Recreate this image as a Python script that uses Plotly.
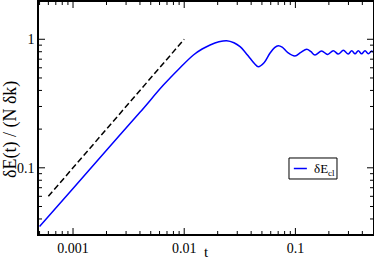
import numpy as np
import plotly.graph_objects as go

# ---- data ----
t = [0.0005, 0.001, 0.002, 0.004, 0.0065, 0.009, 0.0121, 0.0145, 0.0171, 0.0205,
     0.0241, 0.028, 0.0318, 0.0355, 0.0391, 0.043, 0.0464, 0.0525, 0.059, 0.065,
     0.0701, 0.076, 0.085, 0.099, 0.112, 0.1264, 0.138, 0.150, 0.172, 0.195,
     0.219, 0.243, 0.270, 0.299, 0.321, 0.344, 0.368, 0.394, 0.423, 0.453,
     0.485, 0.5]
dE_cl = [0.035, 0.069, 0.137, 0.27, 0.44, 0.59, 0.755, 0.84, 0.903, 0.955,
         0.975, 0.94, 0.876, 0.79, 0.711, 0.645, 0.612, 0.66, 0.778, 0.86,
         0.892, 0.87, 0.79, 0.741, 0.79, 0.836, 0.80, 0.755, 0.81, 0.762,
         0.815, 0.768, 0.82, 0.768, 0.815, 0.77, 0.815, 0.77, 0.815, 0.772,
         0.81, 0.795]

guide_t = [0.0006, 0.01]
guide_y = [0.06, 1.0]

x_tickvals = [0.001, 0.01, 0.1]
x_ticktext = ["0.001", "0.01", "0.1"]
y_tickvals = [0.1, 1]
y_ticktext = ["0.1", "1"]

FONT = "Liberation Serif"
XR = [-3.306, -0.302]
YR = [-1.515, 0.290]

fig = go.Figure()
fig.add_trace(go.Scatter(x=t, y=dE_cl, mode="lines", name="δE<sub>cl</sub>",
                         line=dict(color="#0000ff", width=1.5, shape="spline", smoothing=1)))
fig.add_trace(go.Scatter(x=guide_t, y=guide_y, mode="lines", showlegend=False,
                         line=dict(color="black", width=1.5, dash="6px,3px")))

fig.update_layout(
    width=374, height=262,
    margin=dict(l=39, r=1, t=2, b=28, autoexpand=False),
    plot_bgcolor="white", paper_bgcolor="white",
    showlegend=False,
    font=dict(family=FONT, size=14, color="black"),
    xaxis=dict(type="log", range=XR, tickmode="array",
               tickvals=x_tickvals, ticktext=x_ticktext,
               showline=True, linecolor="black", linewidth=1.5, mirror=True,
               ticks="", showgrid=False, zeroline=False),
    yaxis=dict(type="log", range=YR, tickmode="array",
               tickvals=y_tickvals, ticktext=y_ticktext,
               showline=True, linecolor="black", linewidth=1.5, mirror=True,
               ticks="", showgrid=False, zeroline=False),
)


# tick marks drawn inside on all four sides (major 6 px, minor 3 px)
def ticks_in(lo, hi):
    major, minor = [], []
    for e in range(int(np.floor(lo)) - 1, int(np.ceil(hi)) + 1):
        for m in range(1, 10):
            lv = np.log10(m * 10.0 ** e)
            if lo < lv < hi:
                (major if m == 1 else minor).append((lv - lo) / (hi - lo))
    return major, minor


tick_line = dict(color="black", width=1)
xmaj, xmin_ = ticks_in(*XR)
for frac_list, ln in ((xmaj, 6), (xmin_, 3)):
    for f in frac_list:
        for anchor, sgn in ((0, 1), (1, -1)):
            fig.add_shape(type="line", xref="paper", yref="paper", x0=f, x1=f,
                          ysizemode="pixel", yanchor=anchor, y0=0, y1=sgn * ln,
                          line=tick_line)
ymaj, ymin_ = ticks_in(*YR)
for frac_list, ln in ((ymaj, 6), (ymin_, 3)):
    for f in frac_list:
        for anchor, sgn in ((0, 1), (1, -1)):
            fig.add_shape(type="line", xref="paper", yref="paper", y0=f, y1=f,
                          xsizemode="pixel", xanchor=anchor, x0=0, x1=sgn * ln,
                          line=tick_line)

# axis titles
fig.add_annotation(text="t", xref="paper", yref="paper", x=0.5, y=-0.1207,
                   showarrow=False, xanchor="center", yanchor="bottom",
                   font=dict(family=FONT, size=15))
fig.add_annotation(text="δE(t) / (N δk)", xref="paper", yref="paper",
                   x=-0.0868, y=0.448, textangle=-90, showarrow=False,
                   xanchor="center", yanchor="middle", font=dict(family=FONT, size=18))

# legend box
fig.add_shape(type="rect", xref="paper", yref="paper", x0=0.7485, x1=0.8922,
              y0=0.2371, y1=0.3276, line=dict(color="black", width=1), fillcolor="white")
fig.add_shape(type="line", xref="paper", yref="paper", x0=0.763, x1=0.802,
              y0=0.2823, y1=0.2823, line=dict(color="#0000ff", width=1.5))
fig.add_annotation(text="δE<sub>cl</sub>", xref="paper", yref="paper", x=0.8174, y=0.28,
                   showarrow=False, xanchor="left", yanchor="middle",
                   font=dict(family=FONT, size=13))

fig.write_html("out.html", config={"displayModeBar": False},
               post_script="document.body.style.margin='0';document.body.style.overflow='hidden';")
